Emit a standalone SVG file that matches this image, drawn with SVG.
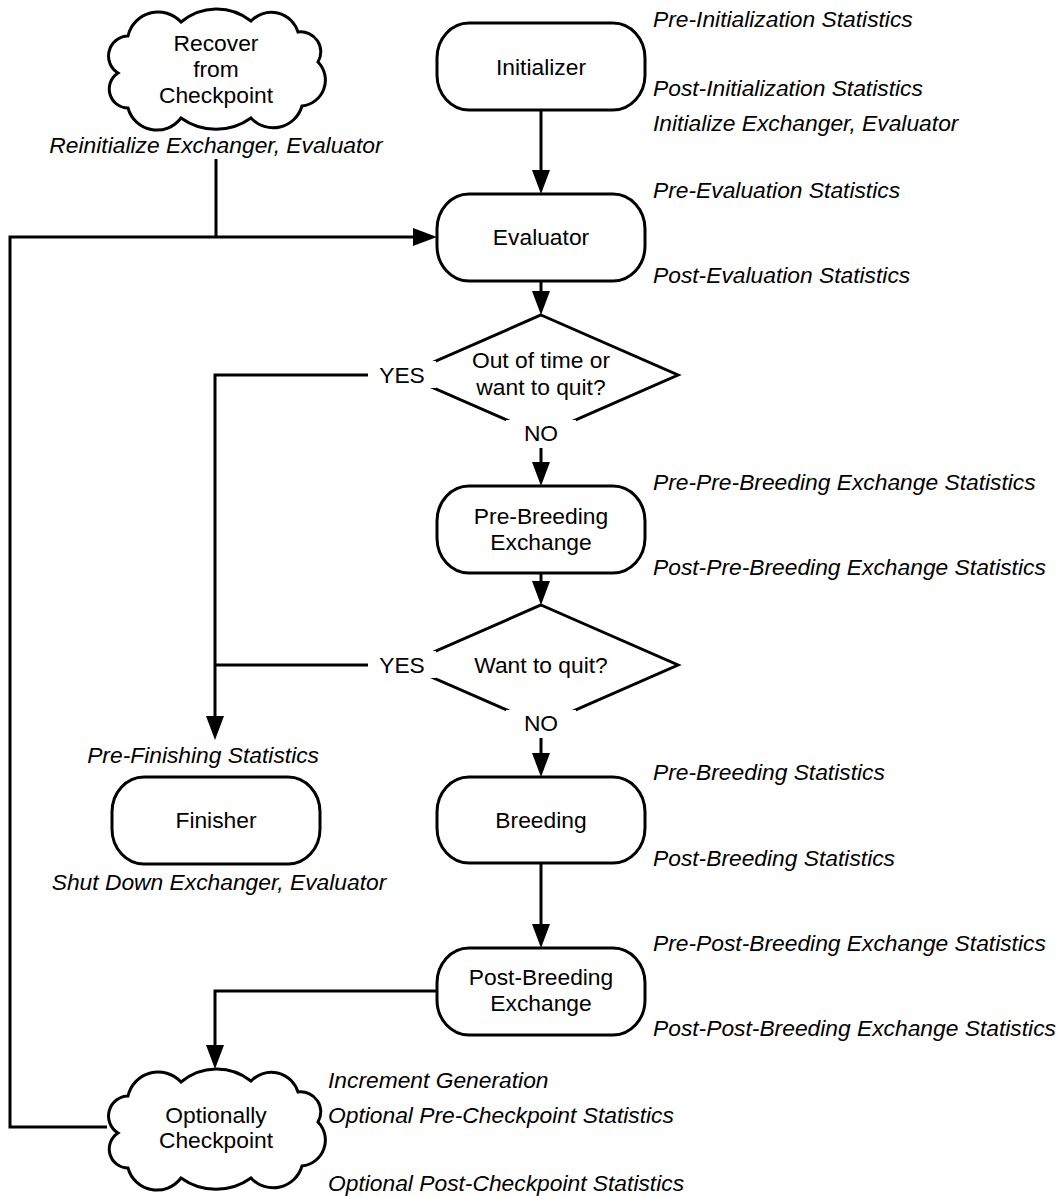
<svg xmlns="http://www.w3.org/2000/svg" width="1062" height="1196" viewBox="0 0 1062 1196">
<style>
text{font-family:"Liberation Sans",Arial,Helvetica,sans-serif;font-size:22.8px;fill:#000}
.n{text-anchor:middle}
.s{font-style:italic}
.shape{fill:#fff;stroke:#000;stroke-width:3}
.edge{fill:none;stroke:#000;stroke-width:3}
.bg{fill:#fff;stroke:none}
</style>
<defs>
<marker id="ah" viewBox="0 0 24 18" refX="14" refY="9" markerWidth="24" markerHeight="18" markerUnits="userSpaceOnUse" orient="auto">
<path d="M0 0 L24 9 L0 18 Z" fill="#000"/>
</marker>
</defs>
<rect width="1062" height="1196" fill="#fff"/>

<g id="connectors">
<path class="edge" d="M541 110 V184" marker-end="url(#ah)"/>
<path class="edge" d="M541 281 V305" marker-end="url(#ah)"/>
<path class="edge" d="M541 448 V476" marker-end="url(#ah)"/>
<path class="edge" d="M541 573 V595" marker-end="url(#ah)"/>
<path class="edge" d="M541 738 V767" marker-end="url(#ah)"/>
<path class="edge" d="M541 863 V938" marker-end="url(#ah)"/>
<path class="edge" d="M368 375 H215 V730" marker-end="url(#ah)"/>
<path class="edge" d="M368 665 H215"/>
<path class="edge" d="M107 1127 H10 V237 H427" marker-end="url(#ah)"/>
<path class="edge" d="M216 159 V237"/>
<path class="edge" d="M437 991 H215 V1059" marker-end="url(#ah)"/>
</g>

<g id="recover">
<path class="shape" d="M128 36 a31 31 0 0 1 53 -14 a55 55 0 0 1 70 -1 a28 28 0 0 1 47 11 a20 20 0 0 1 20 30 a26 26 0 0 1 -16 44 a30 30 0 0 1 -51 12 a60 60 0 0 1 -70 0 a30 30 0 0 1 -53 -10 a19 19 0 0 1 -10 -35 a20 20 0 0 1 10 -37 Z"/>
<text class="n" x="216" y="51">Recover</text>
<text class="n" x="216" y="77">from</text>
<text class="n" x="216" y="103">Checkpoint</text>
<text class="n s" x="216" y="153">Reinitialize Exchanger, Evaluator</text>
</g>

<g id="initializer">
<rect class="shape" x="437" y="23" width="208" height="87" rx="32" ry="35"/>
<text class="n" x="541" y="75">Initializer</text>
<text class="s" x="653" y="27">Pre-Initialization Statistics</text>
<text class="s" x="653" y="96">Post-Initialization Statistics</text>
<text class="s" x="653" y="131">Initialize Exchanger, Evaluator</text>
</g>

<g id="evaluator">
<rect class="shape" x="437" y="194" width="208" height="87" rx="32" ry="35"/>
<text class="n" x="541" y="245">Evaluator</text>
<text class="s" x="653" y="198">Pre-Evaluation Statistics</text>
<text class="s" x="653" y="283">Post-Evaluation Statistics</text>
</g>

<g id="decision1">
<polygon class="shape" points="541,315 678,375 541,435 404,375"/>
<rect class="bg" x="369" y="361" width="67" height="27"/>
<rect class="bg" x="506" y="420" width="70" height="27"/>
<text class="n" x="541" y="368">Out of time or</text>
<text class="n" x="541" y="395">want to quit?</text>
<text class="n" x="402" y="383">YES</text>
<text class="n" x="541" y="441">NO</text>
</g>

<g id="prebreeding">
<rect class="shape" x="437" y="486" width="208" height="87" rx="32" ry="35"/>
<text class="n" x="541" y="524">Pre-Breeding</text>
<text class="n" x="541" y="550">Exchange</text>
<text class="s" x="653" y="490">Pre-Pre-Breeding Exchange Statistics</text>
<text class="s" x="653" y="575">Post-Pre-Breeding Exchange Statistics</text>
</g>

<g id="decision2">
<polygon class="shape" points="541,605 678,665 541,725 404,665"/>
<rect class="bg" x="369" y="651" width="67" height="27"/>
<rect class="bg" x="506" y="710" width="70" height="27"/>
<text class="n" x="541" y="673">Want to quit?</text>
<text class="n" x="402" y="673">YES</text>
<text class="n" x="541" y="731">NO</text>
</g>

<g id="finisher">
<rect class="shape" x="112" y="777" width="208" height="87" rx="32" ry="35"/>
<text class="n" x="216" y="828">Finisher</text>
<text class="s" x="319" y="763" text-anchor="end">Pre-Finishing Statistics</text>
<text class="n s" x="219" y="890">Shut Down Exchanger, Evaluator</text>
</g>

<g id="breeding">
<rect class="shape" x="437" y="777" width="208" height="86" rx="32" ry="35"/>
<text class="n" x="541" y="828">Breeding</text>
<text class="s" x="653" y="780">Pre-Breeding Statistics</text>
<text class="s" x="653" y="866">Post-Breeding Statistics</text>
</g>

<g id="postbreeding">
<rect class="shape" x="437" y="948" width="208" height="87" rx="32" ry="35"/>
<text class="n" x="541" y="985">Post-Breeding</text>
<text class="n" x="541" y="1011">Exchange</text>
<text class="s" x="653" y="951">Pre-Post-Breeding Exchange Statistics</text>
<text class="s" x="653" y="1036">Post-Post-Breeding Exchange Statistics</text>
</g>

<g id="checkpoint">
<path class="shape" d="M128 1096 a31 31 0 0 1 53 -14 a55 55 0 0 1 70 -1 a28 28 0 0 1 47 11 a20 20 0 0 1 20 30 a26 26 0 0 1 -16 44 a30 30 0 0 1 -51 12 a60 60 0 0 1 -70 0 a30 30 0 0 1 -53 -10 a19 19 0 0 1 -10 -35 a20 20 0 0 1 10 -37 Z"/>
<text class="n" x="216" y="1123">Optionally</text>
<text class="n" x="216" y="1148">Checkpoint</text>
<text class="s" x="328" y="1088">Increment Generation</text>
<text class="s" x="328" y="1123">Optional Pre-Checkpoint Statistics</text>
<text class="s" x="328" y="1191">Optional Post-Checkpoint Statistics</text>
</g>
</svg>
